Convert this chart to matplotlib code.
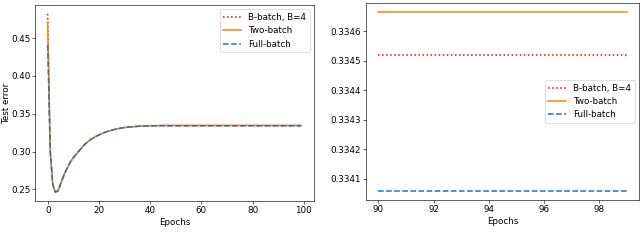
import numpy as np
import matplotlib.pyplot as plt

# epochs 0..99
epochs = np.arange(100)

# value at epoch 0 for each run
start_bbatch = 0.482
start_two = 0.471
start_full = 0.441

# shared curve for epochs 1..45
decay = [0.300, 0.256, 0.2465, 0.248, 0.257, 0.266, 0.274, 0.281, 0.287,
         0.292, 0.296, 0.300, 0.304, 0.308, 0.311, 0.314, 0.3165, 0.3185,
         0.3205, 0.322, 0.3237, 0.325, 0.3262, 0.3273, 0.3283, 0.3292,
         0.3300, 0.3307, 0.3313, 0.3318, 0.3322, 0.3326, 0.3329, 0.3332,
         0.3334, 0.3336, 0.3338, 0.3339, 0.3340, 0.3341, 0.33418, 0.33425,
         0.3343, 0.33435, 0.33438]

# plateau level of each run (epochs 46..99)
plateau_bbatch = 0.334519
plateau_two = 0.334665
plateau_full = 0.334059

n_plateau = 100 - 1 - len(decay)
bbatch = np.array([start_bbatch] + decay + [plateau_bbatch] * n_plateau)
two = np.array([start_two] + decay + [plateau_two] * n_plateau)
full = np.array([start_full] + decay + [plateau_full] * n_plateau)

plt.rcParams["font.size"] = 11.5

# figure scaled down like the paper image
fig = plt.figure(figsize=(640 / 55, 243 / 55), dpi=55)
ax1 = fig.add_axes([0.0547, 0.1728, 0.4359, 0.8066])
ax2 = fig.add_axes([0.5719, 0.1770, 0.4265, 0.8107])

for ax, sl in [(ax1, slice(0, 100)), (ax2, slice(90, 100))]:
    ax.plot(epochs[sl], bbatch[sl], "r:", lw=2, label="B-batch, B=4")
    ax.plot(epochs[sl], two[sl], color="C1", lw=2, label="Two-batch")
    ax.plot(epochs[sl], full[sl], "--", color="C0", lw=2, label="Full-batch")
    ax.set_xlabel("Epochs")

ax1.set_ylabel("Test error", labelpad=0.5)
ax1.set_xticks([0, 20, 40, 60, 80, 100])
ax1.set_yticks([0.25, 0.30, 0.35, 0.40, 0.45])
ax1.tick_params(axis="y", pad=2.5)
ax1.legend(loc="upper right")

ax2.set_xticks([90, 92, 94, 96, 98])
ax2.set_yticks([0.3341, 0.3342, 0.3343, 0.3344, 0.3345, 0.3346])
ax2.ticklabel_format(axis="y", useOffset=False)
ax2.legend(loc="center right")

fig.savefig("out.png", dpi=55)
